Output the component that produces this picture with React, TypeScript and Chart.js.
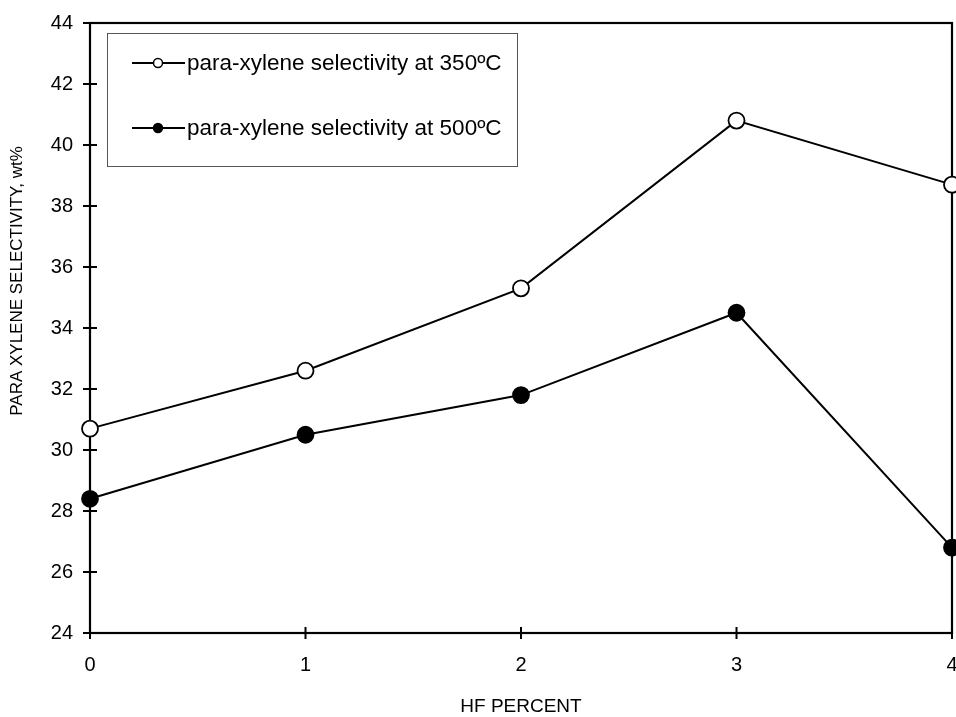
import React, { useEffect, useRef } from "react";
import { Chart, registerables } from "chart.js";

Chart.register(...registerables);

const hfPercent = [0, 1, 2, 3, 4];
const selectivity350 = [30.7, 32.6, 35.3, 40.8, 38.7];
const selectivity500 = [28.4, 30.5, 31.8, 34.5, 26.8];
const seriesLabels = [
  "para-xylene selectivity at 350ºC",
  "para-xylene selectivity at 500ºC",
];
const seriesFills = ["#ffffff", "#000000"];
const xTitle = "HF PERCENT";
const yTitle = "PARA XYLENE SELECTIVITY, wt%";
const xRange = [0, 4, 1];
const yRange = [24, 44, 2];

const FONT = "'Liberation Sans', Arial, sans-serif";

const framePlugin = {
  id: "framePlugin",
  beforeDatasetsDraw(chart: any) {
    const { ctx, chartArea } = chart;
    const xs = chart.scales.x;
    const ys = chart.scales.y;
    ctx.save();
    ctx.strokeStyle = "#000";
    ctx.lineWidth = 2.2;
    ctx.strokeRect(chartArea.left, chartArea.top, chartArea.right - chartArea.left, chartArea.bottom - chartArea.top);
    ctx.lineWidth = 2;
    ctx.beginPath();
    ys.ticks.forEach((t: any) => {
      const y = ys.getPixelForValue(t.value);
      ctx.moveTo(chartArea.left - 7, y);
      ctx.lineTo(chartArea.left + 7, y);
    });
    xs.ticks.forEach((t: any) => {
      const x = xs.getPixelForValue(t.value);
      ctx.moveTo(x, chartArea.bottom - 6);
      ctx.lineTo(x, chartArea.bottom + 6);
    });
    ctx.stroke();
    ctx.restore();
  },
  afterDraw(chart: any) {
    const { ctx, chartArea } = chart;
    ctx.save();
    // axis titles
    ctx.fillStyle = "#000";
    ctx.font = `19px ${FONT}`;
    ctx.textAlign = "center";
    ctx.textBaseline = "middle";
    ctx.fillText(xTitle, (chartArea.left + chartArea.right) / 2, 707);
    ctx.save();
    ctx.translate(17, 281);
    ctx.rotate(-Math.PI / 2);
    ctx.font = `17px ${FONT}`;
    ctx.fillText(yTitle, 0, 0);
    ctx.restore();

    // legend
    const bx = 107.5, by = 33.5, bw = 410, bh = 133;
    ctx.fillStyle = "#fff";
    ctx.fillRect(bx, by, bw, bh);
    ctx.strokeStyle = "#555";
    ctx.lineWidth = 1;
    ctx.strokeRect(bx, by, bw, bh);
    const rows = [63, 128];
    chart.data.datasets.forEach((ds: any, i: number) => {
      const y = rows[i];
      ctx.strokeStyle = "#000";
      ctx.lineWidth = 2;
      ctx.beginPath();
      ctx.moveTo(132, y);
      ctx.lineTo(185, y);
      ctx.stroke();
      ctx.beginPath();
      ctx.arc(158, y, 4.5, 0, Math.PI * 2);
      ctx.fillStyle = ds.pointBackgroundColor;
      ctx.fill();
      ctx.lineWidth = 1.5;
      ctx.stroke();
      ctx.fillStyle = "#000";
      ctx.font = `22.5px ${FONT}`;
      ctx.textAlign = "left";
      ctx.textBaseline = "middle";
      ctx.fillText(ds.label, 187, y + 1);
    });
    ctx.restore();
  },
};

export default function App() {
  const canvasRef = useRef<HTMLCanvasElement | null>(null);

  useEffect(() => {
    document.body.style.margin = "0";
    const canvas = canvasRef.current;
    if (!canvas) return;
    const makeDs = (label: string, values: number[], fill: string) => ({
      label,
      data: hfPercent.map((x, i) => ({ x, y: values[i] })),
      borderColor: "#000",
      borderWidth: 2,
      pointRadius: 8,
      pointBorderWidth: 1.8,
      pointBackgroundColor: fill,
      pointBorderColor: "#000",
      tension: 0,
      clip: false as any,
    });
    const chart = new Chart(canvas, {
      type: "line",
      data: {
        datasets: [
          makeDs(seriesLabels[0], selectivity350, seriesFills[0]),
          makeDs(seriesLabels[1], selectivity500, seriesFills[1]),
        ],
      },
      plugins: [framePlugin],
      options: {
        animation: false,
        responsive: false,
        devicePixelRatio: 1,
        layout: { autoPadding: false, padding: { top: 23, right: 4, left: 0, bottom: 0 } },
        plugins: { legend: { display: false }, tooltip: { enabled: false } },
        scales: {
          x: {
            type: "linear",
            min: xRange[0],
            max: xRange[1],
            grid: { display: false, drawTicks: false },
            border: { display: false },
            ticks: {
              stepSize: xRange[2],
              color: "#000",
              font: { family: FONT, size: 20 },
              padding: 20,
              maxRotation: 0,
            },
            afterFit(scale: any) {
              scale.height = 84;
              scale.paddingLeft = 0;
              scale.paddingRight = 0;
            },
          },
          y: {
            type: "linear",
            min: yRange[0],
            max: yRange[1],
            grid: { display: false, drawTicks: false },
            border: { display: false },
            ticks: {
              stepSize: yRange[2],
              color: "#000",
              font: { family: FONT, size: 20 },
              padding: 17,
            },
            afterFit(scale: any) {
              scale.width = 90;
              scale.paddingTop = 0;
              scale.paddingBottom = 0;
            },
          },
        },
      },
    });
    return () => chart.destroy();
  }, []);

  return (
    <div style={{ width: 956, height: 717, background: "#fff" }}>
      <canvas ref={canvasRef} width={956} height={717} style={{ display: "block" }} />
    </div>
  );
}
